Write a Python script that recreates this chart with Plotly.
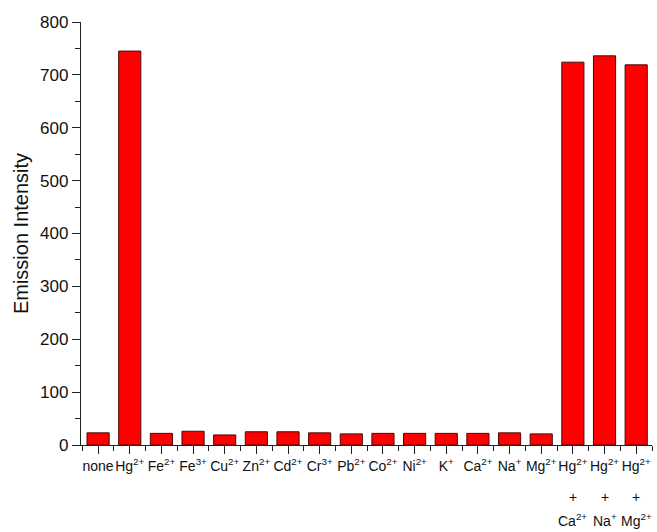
import plotly.graph_objects as go

categories = ["none", "Hg2+", "Fe2+", "Fe3+", "Cu2+", "Zn2+", "Cd2+", "Cr3+", "Pb2+",
              "Co2+", "Ni2+", "K+", "Ca2+", "Na+", "Mg2+", "Hg2+ + Ca2+", "Hg2+ + Na+", "Hg2+ + Mg2+"]
tick_labels = ["none", "Hg<sup>2+</sup>", "Fe<sup>2+</sup>", "Fe<sup>3+</sup>", "Cu<sup>2+</sup>",
               "Zn<sup>2+</sup>", "Cd<sup>2+</sup>", "Cr<sup>3+</sup>", "Pb<sup>2+</sup>",
               "Co<sup>2+</sup>", "Ni<sup>2+</sup>", "K<sup>+</sup>", "Ca<sup>2+</sup>",
               "Na<sup>+</sup>", "Mg<sup>2+</sup>",
               "Hg<sup>2+</sup>", "Hg<sup>2+</sup>", "Hg<sup>2+</sup>"]
# second-line parts of the combined (mixture) labels
mix_index = [15, 16, 17]
mix_plus = ["+", "+", "+"]
mix_second = ["Ca<sup>2+</sup>", "Na<sup>+</sup>", "Mg<sup>2+</sup>"]
intensity = [23, 745, 22, 26, 19, 25, 25, 23, 21, 22, 22, 22, 22, 23, 21, 724, 736, 719]

x_pos = list(range(len(categories)))

fig = go.Figure(go.Bar(
    x=x_pos, y=intensity, width=0.7,
    marker=dict(color="#ff0000", line=dict(color="#4a0808", width=1)),
    hovertext=categories,
))

font_family = "Liberation Sans, Arial, sans-serif"
fig.update_layout(
    width=657, height=532,
    margin=dict(l=81, r=5, t=22, b=87),
    paper_bgcolor="white", plot_bgcolor="white",
    font=dict(family=font_family, color="#111"),
    showlegend=False,
)
fig.update_xaxes(
    range=[-0.54, 17.5], automargin=False,
    tickmode="array", tickvals=x_pos, ticktext=tick_labels,
    tickfont=dict(size=14), tickangle=0,
    ticks="outside", ticklen=8, tickwidth=1.3, tickcolor="#222",
    minor=dict(ticks="outside", ticklen=5, tick0=0.5, dtick=1, tickcolor="#222", tickwidth=1.3),
    showline=True, linecolor="#222", linewidth=1.3,
    showgrid=False, zeroline=False,
)
fig.update_yaxes(
    range=[0, 800], automargin=False,
    tickmode="linear", tick0=0, dtick=100,
    tickfont=dict(size=17),
    ticks="outside", ticklen=8, tickwidth=1.3, tickcolor="#222",
    minor=dict(ticks="outside", ticklen=5, dtick=50, tickcolor="#222", tickwidth=1.3),
    showline=True, linecolor="#222", linewidth=1.3,
    showgrid=False, zeroline=False,
    title=dict(text="Emission Intensity", font=dict(size=20), standoff=6),
)

for i, p, s in zip(mix_index, mix_plus, mix_second):
    fig.add_annotation(x=i, y=-0.123, xref="x", yref="paper", text=p, showarrow=False,
                       font=dict(size=14), yanchor="middle")
    fig.add_annotation(x=i, y=-0.178, xref="x", yref="paper", text=s, showarrow=False,
                       font=dict(size=14), yanchor="middle")

fig.write_html("out.html", config={"displayModeBar": False},
               post_script="document.body.style.margin='0';")
